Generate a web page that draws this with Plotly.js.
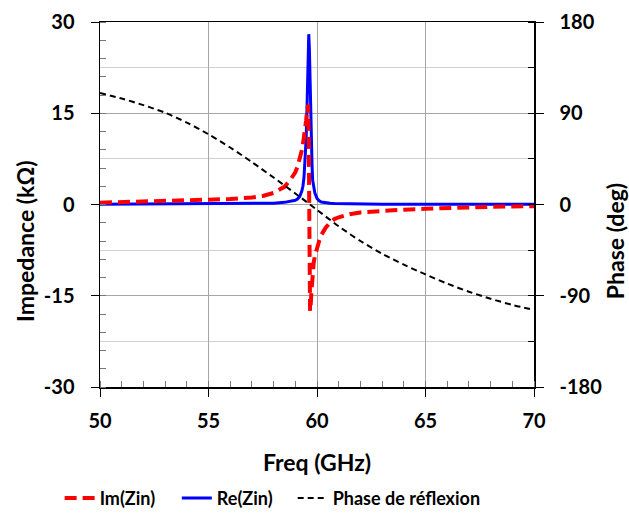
<!DOCTYPE html>
<html><head><meta charset="utf-8">
<script src="https://cdn.plot.ly/plotly-3.0.1.min.js"></script>
<style>html,body{margin:0;padding:0;background:#fff}</style>
</head><body><div id="chart" style="width:629px;height:516px"></div>
<script>
const freqZ = [50,51,52,53,54,55,56,57,57.5,58,58.5,58.8,59,59.1,59.2,59.3,59.35,59.4,59.45,59.5,59.53,59.56,59.59,59.62,59.65,59.68,59.71,59.74,59.77,59.8,59.85,59.9,60,60.1,60.2,60.4,60.6,60.8,61,61.5,62,63,64,65,66,67,68,69,70];
const reZin = [0.03,0.04,0.05,0.06,0.07,0.08,0.1,0.14,0.17,0.22,0.35,0.5,0.7,0.9,1.3,2.2,3.0,4.4,6.8,10.8,14.5,19.5,25,28,25.5,19.5,13.8,9.8,6.6,4.0,2.6,1.9,1.0,0.6,0.4,0.25,0.2,0.16,0.14,0.1,0.08,0.06,0.05,0.04,0.04,0.03,0.03,0.03,0.03];
const imZin = [0.3,0.38,0.45,0.52,0.6,0.75,0.9,1.15,1.4,1.9,2.9,4.2,5.3,6.2,7.4,8.9,9.9,11.0,12.3,13.8,15.0,16.0,16.4,10,-5,-17.5,-16.5,-14.5,-12.5,-11.0,-9.5,-8.5,-7.0,-6.0,-5.0,-3.8,-3.0,-2.4,-2.1,-1.6,-1.3,-1.0,-0.85,-0.7,-0.55,-0.45,-0.4,-0.32,-0.28];
const freqPhase = [50,51,52,53,54,55,56,57,58,59,60,61,62,63,64,65,66,67,68,69,70];
const phase = [110,104.5,98,90.5,80.8,69.3,56.2,41.8,26.6,10.9,-5.3,-21.5,-36,-48.5,-59.3,-69,-78,-86,-93,-99,-104];
const xTicks = [50,55,60,65,70];
const yTicks = [-30,-15,0,15,30];
const y2Ticks = [-180,-90,0,90,180];

const F = 'Lato, "Open Sans", sans-serif';
const traces = [
  {x: freqZ, y: reZin, name: 'Re(Zin)', type: 'scatter', mode: 'lines', line: {color: '#0000ff', width: 3}, legend: 'legend2'},
  {x: freqZ, y: imZin, name: 'Im(Zin)', type: 'scatter', mode: 'lines', line: {color: '#ff0000', width: 4, dash: '12px,6px'}, legend: 'legend'},
  {x: freqPhase, y: phase, name: 'Phase de réflexion', type: 'scatter', mode: 'lines', yaxis: 'y2', line: {color: '#000000', width: 2, dash: '6px,4px', shape: 'spline', smoothing: 0.8}, legend: 'legend3'}
];
const legFont = {family: F, size: 18, weight: 'bold', color: '#000'};
const legBase = {orientation: 'h', y: -0.305, yanchor: 'middle', xanchor: 'left', font: legFont, itemwidth: 30, bgcolor: 'rgba(0,0,0,0)', borderwidth: 0};
const layout = {
  width: 629, height: 516,
  margin: {l: 100, r: 95, t: 22, b: 129, autoexpand: false},
  paper_bgcolor: '#fff', plot_bgcolor: '#fff',
  font: {family: F, size: 19, color: '#000', weight: 'bold'},
  showlegend: true,
  legend: Object.assign({}, legBase, {x: -0.093}),
  legend2: Object.assign({}, legBase, {x: 0.177}),
  legend3: Object.assign({}, legBase, {x: 0.444}),
  xaxis: {
    range: [50, 70], tickvals: xTicks, ticktext: xTicks.map(String),
    showline: true, linecolor: '#000', linewidth: 1.5, mirror: true,
    showgrid: true, gridcolor: '#a6a6a6', gridwidth: 1,
    ticks: 'outside', ticklen: 8, tickcolor: '#000', ticklabelstandoff: 7,
    minor: {dtick: 1, ticks: 'inside', ticklen: 6, tickcolor: '#777', showgrid: false},
    zeroline: false, automargin: false,
    tickfont: {family: F, size: 20, weight: 'bold'},
    title: {text: 'Freq (GHz)', font: {family: F, size: 23, weight: 'bold'}, standoff: 24}
  },
  yaxis: {
    range: [-30, 30], tickvals: yTicks, ticktext: yTicks.map(String),
    showline: true, linecolor: '#000', linewidth: 1.5,
    showgrid: true, gridcolor: '#a6a6a6', gridwidth: 1,
    ticks: 'outside', ticklen: 8, tickcolor: '#000', ticklabelstandoff: 12,
    minor: {dtick: 3, ticks: 'inside', ticklen: 6, tickcolor: '#777', showgrid: false},
    zeroline: false, automargin: false,
    tickfont: {family: F, size: 20, weight: 'bold'}
  },
  yaxis2: {
    overlaying: 'y', side: 'right', range: [-180, 180], tickvals: y2Ticks, ticktext: y2Ticks.map(String),
    showline: true, linecolor: '#000', linewidth: 1.5,
    showgrid: false, zeroline: false, automargin: false,
    ticks: 'outside', ticklen: 8, tickcolor: '#000', ticklabelstandoff: 12,
    minor: {dtick: 45, ticks: 'inside', ticklen: 6, tickcolor: '#000', showgrid: true, gridcolor: '#d0d0d0', gridwidth: 1},
    tickfont: {family: F, size: 20, weight: 'bold'}
  },
  annotations: [
    {text: 'Impedance (kΩ)', xref: 'paper', yref: 'paper', x: -0.173, y: 0.40, xanchor: 'center', yanchor: 'middle', textangle: -90, showarrow: false, font: {family: F, size: 23, weight: 'bold', color: '#000'}},
    {text: 'Phase (deg)', xref: 'paper', yref: 'paper', x: 1.187, y: 0.40, xanchor: 'center', yanchor: 'middle', textangle: -90, showarrow: false, font: {family: F, size: 23, weight: 'bold', color: '#000'}}
  ]
};
Plotly.newPlot('chart', traces, layout, {displayModeBar: false, staticPlot: true});
</script></body></html>
